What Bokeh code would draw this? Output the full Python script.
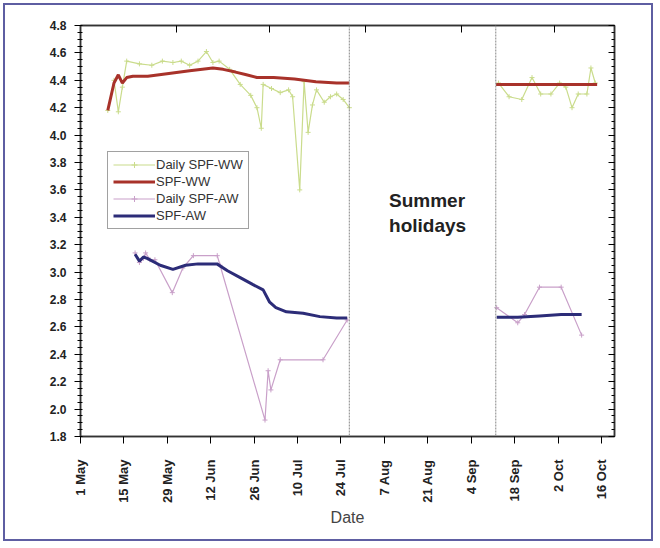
import math
import numpy as np
from bokeh.plotting import figure
from bokeh.models import (Range1d, FixedTicker, LinearAxis, Label, Legend, LegendItem, Span,
                          CustomJSTickFormatter)
from bokeh.embed import file_html
from bokeh.resources import INLINE

nan = float("nan")

# x values: days since 1 May
tick_days = [0, 14, 28, 42, 56, 70, 84, 98, 112, 126, 140, 154, 168]
tick_labels = ["1 May", "15 May", "29 May", "12 Jun", "26 Jun", "10 Jul", "24 Jul",
               "7 Aug", "21 Aug", "4 Sep", "18 Sep", "2 Oct", "16 Oct"]
month_start_days = [0, 31, 61, 92, 123, 153]
holiday_start_day = 86.7
holiday_end_day = 133.9

daily_ww_day = [8.8, 10.8, 12.2, 13.5, 14.9, 19, 23, 26.4, 29.8, 32.5, 35.2, 37.9, 40.6, 42.7,
                44.7, 48.1, 51.5, 54.9, 56.9, 58.3, 58.9, 61.6, 64.4, 67.1, 68.4, 70.7, 72.1,
                73.4, 74.8, 76.1, 78.6, 80.6, 82.6, 84.7, 86.7, nan,
                134.8, 138.2, 142.3, 145.6, 148.4, 151.7, 154.5, 156.5, 158.5, 160.5, 163.3,
                164.6, 166]
daily_ww_val = [4.18, 4.40, 4.17, 4.35, 4.54, 4.52, 4.51, 4.54, 4.53, 4.54, 4.51, 4.54, 4.61, 4.53,
                4.54, 4.48, 4.37, 4.29, 4.20, 4.05, 4.37, 4.34, 4.31, 4.33, 4.28, 3.60, 4.39,
                4.02, 4.22, 4.33, 4.24, 4.28, 4.30, 4.26, 4.20, nan,
                4.38, 4.28, 4.26, 4.42, 4.30, 4.30, 4.38, 4.35, 4.20, 4.30, 4.30,
                4.49, 4.38]

spf_ww_day = [8.8, 10.8, 12.2, 13.5, 14.9, 16.9, 21.7, 28.5, 35.2, 42.7, 46, 50, 53.5, 56.9,
              62.3, 69, 75.9, 82.6, 86.7, nan, 134.0, 166.6]
spf_ww_val = [4.18, 4.38, 4.44, 4.38, 4.42, 4.43, 4.43, 4.45, 4.47, 4.49, 4.48, 4.46, 4.44, 4.42,
              4.42, 4.41, 4.39, 4.38, 4.38, nan, 4.37, 4.37]

daily_aw_day = [17.6, 19, 20.3, 21, 22.4, 24, 29.6, 33, 36.4, 44.1, 45, 59.5, 60.5, 61.4, 64.4,
                78.2, 86, nan, 134.2, 141, 143.2, 148, 155, 161.6]
daily_aw_val = [3.14, 3.07, 3.10, 3.14, 3.09, 3.09, 2.85, 3.03, 3.12, 3.12, 3.05, 1.92, 2.28, 2.14,
                2.36, 2.36, 2.65, nan, 2.74, 2.63, 2.69, 2.89, 2.89, 2.54]

spf_aw_day = [17.6, 19, 20.3, 21.5, 25.7, 29.8, 33.9, 37.9, 44, 47.4, 51.5, 55.5, 58.9, 61, 63,
              66.4, 71.8, 77.2, 82.6, 86, nan, 134.2, 141, 148, 155, 161.6]
spf_aw_val = [3.13, 3.08, 3.11, 3.10, 3.05, 3.02, 3.05, 3.06, 3.06, 3.01, 2.96, 2.91, 2.87, 2.78,
              2.74, 2.71, 2.70, 2.675, 2.665, 2.665, nan, 2.67, 2.67, 2.68, 2.69, 2.69]

y_major = [round(1.8 + 0.2 * i, 1) for i in range(16)]
y_minor = [round(1.8 + 0.05 * i, 2) for i in range(61)]

FONT = "Liberation Sans"

p = figure(width=650, height=538, output_backend="svg", toolbar_location=None,
           x_range=Range1d(0, 172.2), y_range=Range1d(1.8, 4.8),
           min_border_left=75, min_border_right=41, min_border_top=20, min_border_bottom=107)
p.styles = {"border": "2px solid #5e5ea2", "margin": "3px"}
p.xgrid.visible = False
p.ygrid.visible = False
p.outline_line_color = "#333333"
p.outline_line_width = 1.5
p.background_fill_color = "white"
p.border_fill_color = "white"

# bottom axis
xa = p.xaxis[0]
xa.ticker = FixedTicker(ticks=tick_days, minor_ticks=[])
xa.major_label_overrides = {d: l for d, l in zip(tick_days, tick_labels)}
xa.major_label_orientation = math.pi / 2
xa.major_label_text_font = FONT
xa.major_label_text_font_style = "bold"
xa.major_label_text_font_size = "13px"
xa.major_label_text_color = "#222222"
xa.major_tick_out = 7
xa.major_tick_in = 0
xa.major_label_standoff = 16
xa.axis_label = "Date"
xa.axis_label_text_font = FONT
xa.axis_label_text_font_style = "normal"
xa.axis_label_text_font_size = "16px"
xa.axis_label_standoff = 3
xa.axis_line_width = 1.5
xa.axis_line_color = "#333333"

# left axis
ya = p.yaxis[0]
ya.ticker = FixedTicker(ticks=y_major, minor_ticks=y_minor)
ya.major_label_overrides = {v: f"{v:.1f}" for v in y_major}
ya.major_label_text_font = FONT
ya.major_label_text_font_style = "bold"
ya.major_label_text_font_size = "12px"
ya.major_label_text_color = "#222222"
ya.major_tick_out = 6
ya.major_tick_in = 0
ya.minor_tick_out = 3
ya.minor_tick_in = 2
ya.major_label_standoff = 8
ya.axis_line_width = 1.5
ya.axis_line_color = "#333333"

blank = CustomJSTickFormatter(code="return '';")

# top axis (month starts)
ta = LinearAxis(ticker=FixedTicker(ticks=month_start_days, minor_ticks=[]),
                formatter=blank, major_tick_in=7, major_tick_out=0,
                axis_line_width=1.5, axis_line_color="#333333", major_label_standoff=0)
p.add_layout(ta, "above")

# right axis
ra = LinearAxis(ticker=FixedTicker(ticks=y_major, minor_ticks=y_minor),
                formatter=blank, major_tick_in=6, major_tick_out=0,
                minor_tick_in=3, minor_tick_out=0,
                axis_line_width=1.5, axis_line_color="#333333", major_label_standoff=0)
p.add_layout(ra, "right")

# holiday boundaries
for d in (holiday_start_day, holiday_end_day):
    p.add_layout(Span(location=d, dimension="height", line_color="#9a9a9a",
                      line_width=1.2, line_dash="2 1"))

c_dww = "#cadc8c"
c_ww = "#a8322a"
c_daw = "#c9a0c9"
c_aw = "#2c2c78"

l1 = p.line(daily_ww_day, daily_ww_val, line_color=c_dww, line_width=1.2)
m1 = p.scatter(daily_ww_day, daily_ww_val, marker="cross", size=5, line_color=c_dww)
l2 = p.line(spf_ww_day, spf_ww_val, line_color=c_ww, line_width=3)
l3 = p.line(daily_aw_day, daily_aw_val, line_color=c_daw, line_width=1.2)
m3 = p.scatter(daily_aw_day, daily_aw_val, marker="cross", size=5, line_color=c_daw)
l4 = p.line(spf_aw_day, spf_aw_val, line_color=c_aw, line_width=3)

legend = Legend(items=[
    LegendItem(label="Daily SPF-WW", renderers=[l1, m1]),
    LegendItem(label="SPF-WW", renderers=[l2]),
    LegendItem(label="Daily SPF-AW", renderers=[l3, m3]),
    LegendItem(label="SPF-AW", renderers=[l4]),
], location=(27, 207))
legend.label_text_font = FONT
legend.label_text_font_size = "13px"
legend.label_text_color = "#333333"
legend.glyph_width = 42
legend.glyph_height = 15
legend.label_height = 15
legend.label_standoff = 1
legend.spacing = 2
legend.padding = 5
legend.margin = 0
legend.border_line_color = "#444444"
legend.border_line_width = 1.2
legend.background_fill_alpha = 1
p.add_layout(legend)

p.add_layout(Label(x=99.5, y=3.52, text="Summer", text_font=FONT, text_font_style="bold",
                   text_font_size="19px", text_color="#222222", text_baseline="middle"))
p.add_layout(Label(x=99.5, y=3.34, text="holidays", text_font=FONT, text_font_style="bold",
                   text_font_size="19px", text_color="#222222", text_baseline="middle"))

open("out.html", "w").write(file_html(p, INLINE))
